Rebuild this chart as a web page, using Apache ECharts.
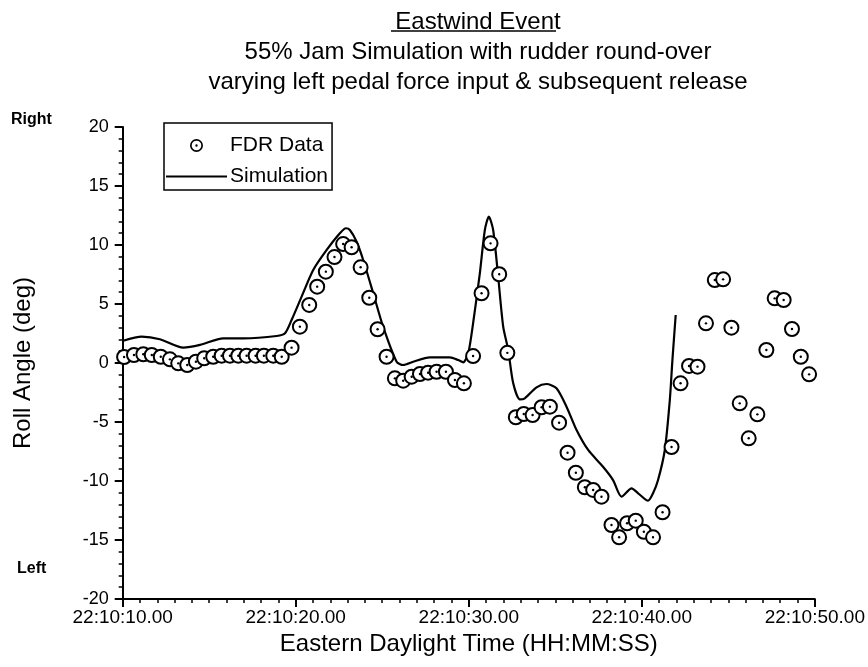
<!DOCTYPE html>
<html>
<head>
<meta charset="utf-8">
<script src="https://cdn.jsdelivr.net/npm/echarts@6/dist/echarts.min.js"></script>
<style>html,body{margin:0;padding:0;background:#fff}#c{width:868px;height:667px}</style>
</head>
<body>
<div id="c"></div>
<script>
// Time in seconds after 22:10:00
var fdrTime = [10.08,10.65,11.19,11.68,12.20,12.73,13.21,13.73,14.23,14.71,15.23,15.72,16.20,16.68,17.16,17.68,18.16,18.70,19.19,19.76,
  20.24,20.78,21.24,21.74,22.24,22.74,23.23,23.75,24.25,24.73,25.25,25.73,26.21,26.70,27.18,27.65,28.14,28.68,29.20,29.72,
  30.25,30.74,31.26,31.76,32.23,32.72,33.18,33.69,34.21,34.69,35.22,35.71,36.19,36.71,37.19,37.67,38.25,38.69,39.15,39.65,
  40.12,40.65,41.20,41.72,42.24,42.73,43.22,43.71,44.22,44.70,45.18,45.66,46.18,46.68,47.20,47.68,48.20,48.68,49.19,49.67];
var fdrRoll = [0.51,0.68,0.74,0.68,0.53,0.31,-0.03,-0.17,0.11,0.40,0.53,0.62,0.62,0.62,0.62,0.62,0.62,0.62,0.53,1.30,
  3.08,4.92,6.47,7.74,8.98,10.08,9.81,8.11,5.53,2.86,0.53,-1.30,-1.50,-1.16,-0.93,-0.82,-0.74,-0.74,-1.44,-1.72,
  0.59,5.91,10.14,7.52,0.86,-4.60,-4.32,-4.41,-3.75,-3.70,-5.06,-7.60,-9.30,-10.53,-10.76,-11.33,-13.73,-14.77,-13.58,-13.36,
  -14.30,-14.77,-12.65,-7.12,-1.72,-0.25,-0.31,3.36,7.03,7.09,2.99,-3.42,-6.38,-4.35,1.10,5.48,5.34,2.88,0.53,-0.96];

var simTime = [10.03,11.10,12.15,13.50,14.47,15.81,16.97,18.90,19.38,19.76,20.34,21.01,21.79,22.55,22.90,23.13,23.52,23.90,24.48,25.05,
  25.83,26.21,26.79,27.75,28.91,29.39,29.68,29.97,30.25,30.64,30.93,31.16,31.41,31.70,31.99,32.28,32.57,32.95,33.24,33.92,
  34.49,35.07,35.65,36.23,36.90,37.76,38.34,38.83,39.41,39.79,40.36,40.65,40.94,41.33,41.62,41.77,41.96];
var simRoll = [1.89,2.23,2.01,1.30,1.53,2.09,2.09,2.29,2.52,3.64,5.62,7.88,9.58,10.99,11.42,11.27,10.28,8.73,5.91,3.08,
  0.11,-0.17,0.11,0.48,0.48,0.25,0.06,0.82,3.36,7.60,11.27,12.40,11.27,7.31,3.08,1.10,-1.72,-3.08,-2.99,-2.06,
  -1.78,-2.14,-3.70,-5.68,-7.37,-8.79,-9.92,-11.33,-10.62,-11.04,-11.67,-11.04,-9.92,-7.37,-3.14,0.25,4.07];

var xTicks = [10, 20, 30, 40, 50];
var yTicks = [-20, -15, -10, -5, 0, 5, 10, 15, 20];

var fdrData = fdrTime.map(function (t, i) { return [t, fdrRoll[i]]; });
var simData = simTime.map(function (t, i) { return [t, simRoll[i]]; });

var FONT = 'Liberation Sans, Arial, Helvetica, sans-serif';
var ringIcon = 'path://M0,-10A10,10 0 1,1 0,10A10,10 0 1,1 0,-10Z M0,-7.4A7.4,7.4 0 1,0 0,7.4A7.4,7.4 0 1,0 0,-7.4Z M0,-1.8A1.8,1.8 0 1,1 0,1.8A1.8,1.8 0 1,1 0,-1.8Z';
var lineIcon = 'path://M0,0L61,0L61,2.2L0,2.2Z';

var chart = echarts.init(document.getElementById('c'), null, {renderer: 'canvas'});
chart.setOption({
  backgroundColor: '#fff',
  animation: false,
  textStyle: {fontFamily: FONT, color: '#000'},
  title: [
    {text: 'Eastwind Event', left: 473, top: 5, textAlign: 'center',
     textStyle: {fontFamily: FONT, fontSize: 24, fontWeight: 'normal', color: '#000'}},
    {text: '55% Jam Simulation with rudder round-over', left: 473, top: 35, textAlign: 'center',
     textStyle: {fontFamily: FONT, fontSize: 24, fontWeight: 'normal', color: '#000'}},
    {text: 'varying left pedal force input & subsequent release', left: 473, top: 65, textAlign: 'center',
     textStyle: {fontFamily: FONT, fontSize: 24, fontWeight: 'normal', color: '#000'}}
  ],
  graphic: [
    {type: 'line', shape: {x1: 391, y1: 31, x2: 556, y2: 31}, style: {stroke: '#000', lineWidth: 1.3}},
    {type: 'text', left: 11, top: 112, style: {text: 'Right', font: 'bold 16px ' + FONT, fill: '#000'}},
    {type: 'text', left: 17, top: 561, style: {text: 'Left', font: 'bold 16px ' + FONT, fill: '#000'}}
  ],
  legend: {
    left: 164, top: 123, orient: 'vertical',
    padding: [12, 4, 3, 2],
    itemGap: 10,
    itemWidth: 61, itemHeight: 13,
    borderColor: '#000', borderWidth: 1.5,
    textStyle: {fontFamily: FONT, fontSize: 21, color: '#000', padding: [0, 0, 0, -2]},
    data: [{name: 'FDR Data', icon: ringIcon}, {name: 'Simulation', icon: lineIcon}]
  },
  grid: {left: 122.7, right: 53, top: 127, bottom: 68, containLabel: false},
  xAxis: {
    type: 'value', min: xTicks[0], max: xTicks[xTicks.length - 1], interval: 10,
    axisLine: {onZero: false, lineStyle: {color: '#000', width: 2}},
    axisTick: {length: 8, lineStyle: {color: '#000', width: 2}},
    minorTick: {show: true, splitNumber: 10, length: 4, lineStyle: {color: '#000', width: 1.5}},
    splitLine: {show: false},
    axisLabel: {color: '#000', fontSize: 19, fontFamily: FONT, margin: 9,
      formatter: function (v) { return '22:10:' + (v < 10 ? '0' : '') + v + '.00'; }},
    name: 'Eastern Daylight Time (HH:MM:SS)', nameLocation: 'middle', nameGap: 33,
    nameTextStyle: {fontSize: 24, fontFamily: FONT, color: '#000'}
  },
  yAxis: {
    type: 'value', min: yTicks[0], max: yTicks[yTicks.length - 1], interval: 5,
    axisLine: {show: true, lineStyle: {color: '#000', width: 2}},
    axisTick: {show: true, length: 8, lineStyle: {color: '#000', width: 2}},
    minorTick: {show: true, splitNumber: 5, length: 4, lineStyle: {color: '#000', width: 1.5}},
    splitLine: {show: false},
    axisLabel: {color: '#000', fontSize: 18, fontFamily: FONT, margin: 14},
    name: 'Roll Angle (deg)', nameLocation: 'middle', nameGap: 87,
    nameTextStyle: {fontSize: 24, fontFamily: FONT, color: '#000'}
  },
  series: [
    {
      name: 'Simulation', type: 'line', data: simData, symbol: 'none', smooth: 0.25,
      lineStyle: {color: '#000', width: 2.2}, itemStyle: {color: '#000'}, z: 2
    },
    {
      name: 'FDR Data', type: 'custom', data: fdrData, z: 3,
      itemStyle: {color: '#000'},
      renderItem: function (params, api) {
        var p = api.coord([api.value(0), api.value(1)]);
        return {
          type: 'group',
          children: [
            {type: 'circle', shape: {cx: p[0], cy: p[1], r: 7}, style: {fill: '#fff', stroke: '#000', lineWidth: 2}},
            {type: 'circle', shape: {cx: p[0], cy: p[1], r: 1.2}, style: {fill: '#000'}}
          ]
        };
      }
    }
  ]
});
</script>
</body>
</html>
